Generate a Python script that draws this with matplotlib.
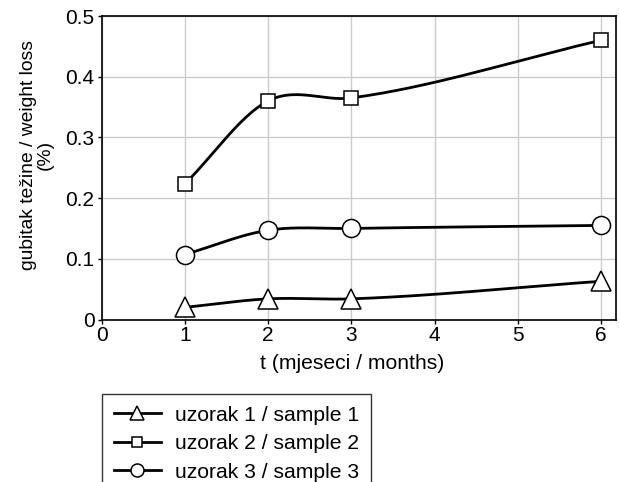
import numpy as np
import matplotlib.pyplot as plt
from matplotlib.lines import Line2D

plt.rcParams['font.family'] = ['Liberation Sans', 'DejaVu Sans']

months = [1, 2, 3, 6]
sample1 = [0.020, 0.034, 0.034, 0.063]
sample2 = [0.223, 0.360, 0.365, 0.460]
sample3 = [0.107, 0.147, 0.150, 0.155]
labels = ['uzorak 1 / sample 1', 'uzorak 2 / sample 2', 'uzorak 3 / sample 3']
markers = ['^', 's', 'o']
msizes = [14, 10, 13]


def smooth(x, y, n=50):
    # cubic hermite curve, tangent = mean of neighbouring secant slopes
    x = np.asarray(x, float)
    y = np.asarray(y, float)
    sec = np.diff(y) / np.diff(x)
    m = np.empty_like(y)
    m[0], m[-1] = sec[0], sec[-1]
    m[1:-1] = (sec[:-1] + sec[1:]) / 2
    xs, ys = [], []
    t = np.linspace(0, 1, n)
    h00 = (1 + 2 * t) * (1 - t) ** 2
    h10 = t * (1 - t) ** 2
    h01 = t ** 2 * (3 - 2 * t)
    h11 = t ** 2 * (t - 1)
    for i in range(len(x) - 1):
        h = x[i + 1] - x[i]
        xs.append(x[i] + t * h)
        ys.append(h00 * y[i] + h10 * h * m[i] + h01 * y[i + 1] + h11 * h * m[i + 1])
    return np.concatenate(xs), np.concatenate(ys)


fig = plt.figure(figsize=(6.19, 4.82), dpi=100)
ax = fig.add_axes([101.5 / 619, 1 - 319.5 / 482, 514.5 / 619, 303.5 / 482])

handles = []
for y, m, ms, lab in zip([sample1, sample2, sample3], markers, msizes, labels):
    sx, sy = smooth(months, y)
    ax.plot(sx, sy, color='black', lw=2, zorder=3, clip_on=False)
    ax.plot(months, y, ls='none', marker=m, ms=ms, mfc='white', mec='black',
            mew=1.1, zorder=4, clip_on=False)
    handles.append(Line2D([], [], color='black', lw=2, marker=m, ms=ms * 0.72,
                          mfc='white', mec='black', mew=1.1))

ax.set_xlim(0, 6.18)
ax.set_ylim(0, 0.5)
ax.set_xticks(range(0, 7))
ax.set_yticks([0, 0.1, 0.2, 0.3, 0.4, 0.5])
ax.set_yticklabels(['0', '0.1', '0.2', '0.3', '0.4', '0.5'])
ax.grid(True, color='#cccccc', lw=1)
ax.set_axisbelow(True)
ax.tick_params(labelsize=15, length=3, direction='out', width=1, pad=2)
for s in ax.spines.values():
    s.set_linewidth(1.2)

ax.set_xlabel('t (mjeseci / months)', fontsize=15.2)
ax.xaxis.set_label_coords(0.488, -0.113)
ax.set_ylabel('gubitak težine / weight loss\n(%)', fontsize=13.9, linespacing=1.0)
ax.yaxis.set_label_coords(-0.092, 0.542)

fig.legend(handles, labels, loc='upper left', bbox_to_anchor=(102 / 619, 1 - 394 / 482),
           frameon=True, fancybox=False, edgecolor='black', fontsize=15.2,
           handlelength=2.25, handletextpad=0.65, labelspacing=0.45,
           borderpad=0.55, borderaxespad=0)

fig.savefig('out.png', dpi=100)
